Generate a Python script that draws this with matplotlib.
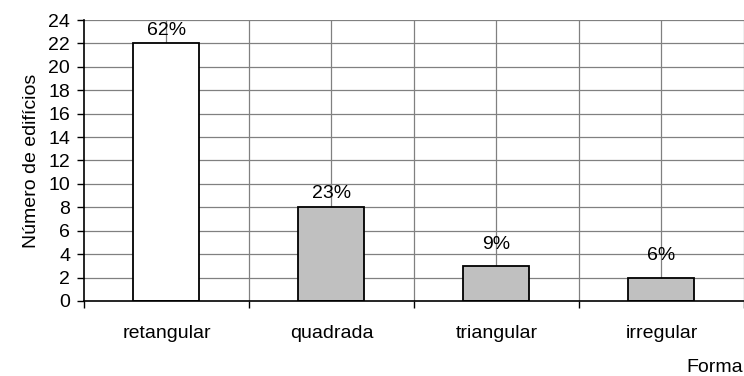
import numpy as np
import matplotlib
matplotlib.use("Agg")
from matplotlib import pyplot as plt

plt.rcParams['font.family'] = ['Liberation Sans', 'DejaVu Sans']

# data
formas = ['retangular', 'quadrada', 'triangular', 'irregular']
edificios = [22, 8, 3, 2]
percentagens = ['62%', '23%', '9%', '6%']
cores = ['white', '#c0c0c0', '#c0c0c0', '#c0c0c0']
label_offset = [9.3, 10.3, 15.6, 16]  # points above bar top

fs = 14

fig = plt.figure(figsize=(7.44, 3.76), dpi=100)
ax = fig.add_axes([0.1129, 0.1995, 0.8871, 0.7473])

x = np.arange(len(formas))

# grid: horizontal at every tick, vertical at centres and boundaries
for yv in range(2, 25, 2):
    ax.axhline(yv, color='#808080', lw=0.9, zorder=0)
for xv in np.arange(-0.5, len(formas), 0.5)[1:]:
    ax.axvline(xv, color='#808080', lw=0.9, zorder=0)

ax.bar(x, edificios, width=0.4, color=cores, edgecolor='black', linewidth=1.3, zorder=2)

for i in range(len(formas)):
    ax.annotate(percentagens[i], (x[i], edificios[i]), xytext=(0, label_offset[i]),
                textcoords='offset points', ha='center', va='center', fontsize=fs)

ax.set_xlim(-0.5, len(formas) - 0.5)
ax.set_ylim(0, 24)
ax.set_yticks(range(0, 25, 2))
ax.set_xticks(x)
ax.set_xticklabels(formas, fontsize=fs)
ax.set_xticks(np.arange(-0.5, len(formas) - 0.4, 1), minor=True)
ax.tick_params(axis='x', which='major', length=0, pad=17)
ax.tick_params(axis='x', which='minor', length=5, width=1, color='black')
ax.tick_params(axis='y', length=5, width=1, labelsize=fs, pad=5)

for s in ['top', 'right']:
    ax.spines[s].set_visible(False)
ax.spines['left'].set_linewidth(1.2)
ax.spines['bottom'].set_linewidth(1.2)

ax.set_ylabel('Número de edifícios', fontsize=fs, labelpad=6)
fig.text(0.9985, 0.0, 'Forma', ha='right', va='bottom', fontsize=fs)

plt.savefig('out.png', dpi=100)
